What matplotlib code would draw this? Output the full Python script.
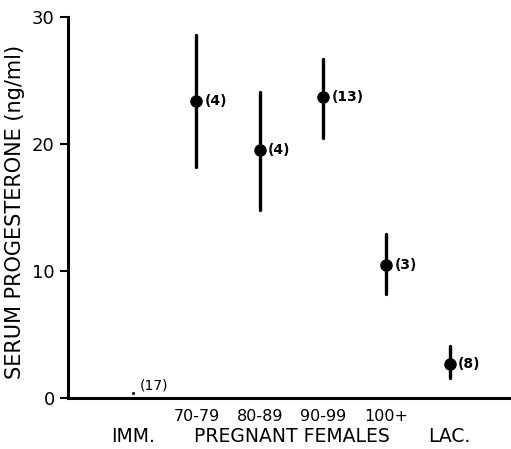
import matplotlib
matplotlib.use("Agg")
import matplotlib.pyplot as plt
from matplotlib.ticker import MultipleLocator

groups = ["IMM.", "70-79", "80-89", "90-99", "100+", "LAC."]
means = [0.4, 23.4, 19.5, 23.7, 10.5, 2.7]
upper = [0.4, 28.6, 24.1, 26.7, 12.9, 4.1]
lower = [0.4, 18.2, 14.8, 20.5, 8.2, 1.6]
counts = ["(17)", "(4)", "(4)", "(13)", "(3)", "(8)"]
tick_labels = ["70-79", "80-89", "90-99", "100+"]
group_labels = ["IMM.", "PREGNANT FEMALES", "LAC."]

fig = plt.figure(figsize=(5.11, 4.49), dpi=100)
ax = fig.add_axes([0.133, 0.1136, 0.867, 0.8484])

xs = list(range(len(groups)))
for i, x in enumerate(xs):
    if i == 0:
        ax.plot([x], [means[i]], 'o', color='black', ms=1.2)
        ax.text(x + 0.1, 1.0, counts[i], fontsize=10, va='center', ha='left')
        continue
    ax.plot([x, x], [lower[i], upper[i]], color='black', lw=2.4, solid_capstyle='round')
    ax.plot([x], [means[i]], 'o', color='black', ms=8)
    ax.text(x + 0.13, means[i], counts[i], fontsize=10, va='center', ha='left', fontweight='bold')

ax.set_xlim(-1.03, 5.97)
ax.set_ylim(0, 30)
ax.spines['top'].set_visible(False)
ax.spines['right'].set_visible(False)
ax.spines['left'].set_linewidth(2.2)
ax.spines['bottom'].set_linewidth(2.2)
ax.yaxis.set_major_locator(MultipleLocator(10))
ax.yaxis.set_minor_locator(MultipleLocator(2))
ax.tick_params(axis='y', which='major', length=6, width=1.5, labelsize=13, direction='out')
ax.tick_params(axis='y', which='minor', length=0)
ax.set_xticks([1, 2, 3, 4])
ax.set_xticklabels(tick_labels, fontsize=11.5)
ax.tick_params(axis='x', length=0, pad=8)

label_x = [0, 2.5, 5]
for x, t in zip(label_x, group_labels):
    ax.text(x, -3.05, t, fontsize=13.5, ha='center', va='center', transform=ax.transData, clip_on=False)

fig.text(15 / 511, 1 - 212 / 449, "SERUM PROGESTERONE (ng/ml)", fontsize=15,
         rotation=90, ha='center', va='center')

fig.savefig("out.png", dpi=100)
